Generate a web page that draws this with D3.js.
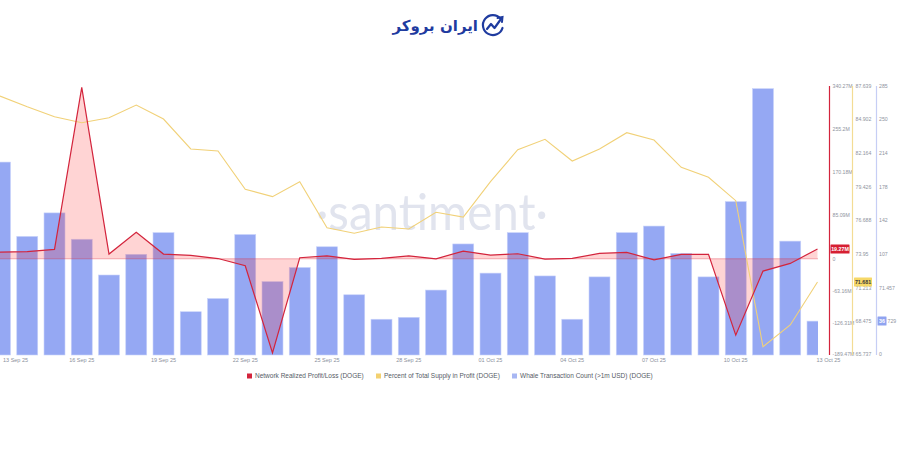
<!DOCTYPE html>
<html><head><meta charset="utf-8">
<script src="https://cdn.jsdelivr.net/npm/d3@7/dist/d3.min.js"></script>
<style>
html,body{margin:0;padding:0;background:#fff;}
svg{display:block;}
</style></head>
<body>
<svg id="chart" width="900" height="471"></svg>
<script>
// ---------- DATA ----------
const dates = ["2025-09-13","2025-09-14","2025-09-15","2025-09-16","2025-09-17","2025-09-18","2025-09-19","2025-09-20",
"2025-09-21","2025-09-22","2025-09-23","2025-09-24","2025-09-25","2025-09-26","2025-09-27","2025-09-28","2025-09-29",
"2025-09-30","2025-10-01","2025-10-02","2025-10-03","2025-10-04","2025-10-05","2025-10-06","2025-10-07","2025-10-08",
"2025-10-09","2025-10-10","2025-10-11","2025-10-12","2025-10-13"];
// Network Realized Profit/Loss (DOGE), millions USD
const realizedPL = [13.2,14.2,18.5,337.7,9.3,52,9.3,6.7,0.5,-13.8,-185.5,2,5.9,-1.2,0.8,5.9,0,15.2,7.3,9.9,-0.5,0.8,10.6,12.6,-2,8.7,8.7,-150.3,-24.2,-9.1,19.27];
// Percent of Total Supply in Profit (DOGE)
const pctProfit = [86.82,85.95,85.14,84.65,85.06,86.09,84.95,82.51,82.35,79.23,78.63,79.85,76.10,75.65,76.16,76.00,77.36,76.97,79.85,82.45,83.30,81.53,82.51,83.84,83.24,81.02,80.21,78.30,66.41,68.18,71.681];
// Whale Transaction Count (>1m USD) (DOGE)
const whaleCount = [205,126,151,123,85,107,130,46,60,128,78,93,115,64,38,40,69,118,87,130,84,38,83,130,137,108,83,163,283,121,36];

const xTickDates = ["2025-09-13","2025-09-16","2025-09-19","2025-09-22","2025-09-25","2025-09-28","2025-10-01","2025-10-04","2025-10-07","2025-10-10","2025-10-13"];
const xTickLabels = ["13 Sep 25","16 Sep 25","19 Sep 25","22 Sep 25","25 Sep 25","28 Sep 25","01 Oct 25","04 Oct 25","07 Oct 25","10 Oct 25","13 Oct 25"];

const plTicks = [340.27,255.2,170.18,85.09,0,-63.16,-126.31,-189.47];
const plTickLabels = ["340.27M","255.2M","170.18M","85.09M","0","-63.16M","-126.31M","-189.47M"];
const pctTicks = [87.639,84.902,82.164,79.426,76.688,73.95,71.213,68.475,65.737];
const pctTickLabels = ["87.639","84.902","82.164","79.426","76.688","73.95","71.213","68.475","65.737"];
const whaleTicks = [285.83,250.1,214.37,178.64,142.91,107.19,71.457,35.729,0];
// the "35.729" label is mostly hidden behind the last-value tag; only "729" shows
const whaleTickLabels = ["285","250","214","178","142","107","71.457","729","0"];

const legendLabels = ["Network Realized Profit/Loss (DOGE)","Percent of Total Supply in Profit (DOGE)","Whale Transaction Count (>1m USD) (DOGE)"];
const lastTags = ["19.27M","71.681","36"];

// ---------- LAYOUT ----------
const svg = d3.select("#chart");
const plotTop = 86, plotBottom = 355, plotRight = 818;
const RED = "#d3243c", YEL = "#f1d178", BLUE = "#95a8f3";
const FONT = "'Liberation Sans', Arial, sans-serif";

const x = d3.scalePoint().domain(dates).range([0, 817.5]);
const step = x.step();
const yPL = d3.scaleLinear().domain([-189.47, 340.27]).range([plotBottom, plotTop]);
const yPct = d3.scaleLinear().domain([65.737, 87.639]).range([plotBottom, plotTop]);
const yW = d3.scaleLinear().domain([0, 285.83]).range([plotBottom, plotTop]);

// Logo
const logo = svg.append("g");
logo.append("text").attr("x", 478).attr("y", 31)
  .attr("direction", "rtl").attr("text-anchor", "start")
  .attr("font-family", "'DejaVu Sans', sans-serif").attr("font-weight", "bold")
  .attr("font-size", 15).attr("fill", "#1f3b9f").text("ایران بروکر");
const ic = logo.append("g").attr("transform", "translate(493,25)");
ic.append("path").attr("d", "M7.5,-6.5 A10,10 0 1 0 9.5,3").attr("fill", "none").attr("stroke", "#1f3b9f").attr("stroke-width", 2.2).attr("stroke-linecap","round");
ic.append("path").attr("d", "M-6,4 L-2,-1 L1.5,3 L8,-6").attr("fill", "none").attr("stroke", "#1f3b9f").attr("stroke-width", 2.2).attr("stroke-linejoin","round").attr("stroke-linecap","round");
ic.append("path").attr("d", "M4.5,-7 L9.5,-8 L9,-3").attr("fill", "none").attr("stroke", "#1f3b9f").attr("stroke-width", 2).attr("stroke-linecap","round");

// Watermark
svg.append("text").attr("x", 432).attr("y", 230).attr("text-anchor", "middle")
  .attr("font-family", "Lato, sans-serif").attr("font-weight", 400).attr("font-size", 50)
  .attr("fill", "#e1e4ee").attr("textLength", 232).attr("lengthAdjust","spacingAndGlyphs").text("·santiment·");

// clip
svg.append("defs").append("clipPath").attr("id", "plotclip")
  .append("rect").attr("x", 0).attr("y", 0).attr("width", plotRight).attr("height", 471);
const plot = svg.append("g").attr("clip-path", "url(#plotclip)");

// Bars
const bw = step * 0.77;
plot.selectAll("rect.bar").data(dates).join("rect").attr("class", "bar")
  .attr("x", d => x(d) - bw / 2).attr("width", bw)
  .attr("y", (d, i) => yW(whaleCount[i])).attr("height", (d, i) => yW(0) - yW(whaleCount[i]))
  .attr("fill", BLUE).attr("stroke", "#c9d3fa").attr("stroke-width", 0.6);

// Red area to zero
const area = d3.area().x((d, i) => x(dates[i])).y0(yPL(0)).y1(d => yPL(d));
plot.append("path").datum(realizedPL).attr("d", area).attr("fill", "rgba(255,40,40,0.2)");
plot.append("line").attr("x1", 0).attr("x2", plotRight).attr("y1", yPL(0)).attr("y2", yPL(0))
  .attr("stroke", "rgba(220,40,60,0.45)").attr("stroke-width", 0.8);

// Lines
const linePL = d3.line().x((d, i) => x(dates[i])).y(d => yPL(d));
const linePct = d3.line().x((d, i) => x(dates[i])).y(d => yPct(d));
plot.append("path").datum(pctProfit).attr("d", linePct).attr("fill", "none").attr("stroke", YEL).attr("stroke-width", 1.1);
plot.append("path").datum(realizedPL).attr("d", linePL).attr("fill", "none").attr("stroke", RED).attr("stroke-width", 1.2);

// X labels
const xl = svg.append("g").attr("font-family", FONT).attr("font-size", 5.5).attr("fill", "#8a8f9c");
xl.selectAll("text").data(xTickDates).join("text")
  .attr("x", (d, i) => i === 0 ? 3 : (i === xTickDates.length - 1 ? x(d) - 1 : x(d)))
  .attr("y", 361.8)
  .attr("text-anchor", (d, i) => (i === 0 || i === xTickDates.length - 1) ? "start" : "middle")
  .text((d, i) => xTickLabels[i]);

// Right axes
function rightAxis(xLine, color, scale, ticks, labels, labelX) {
  svg.append("line").attr("x1", xLine).attr("x2", xLine).attr("y1", plotTop).attr("y2", plotBottom)
    .attr("stroke", color).attr("stroke-width", 1.2);
  svg.append("g").attr("font-family", FONT).attr("font-size", 5.2).attr("fill", "#8f94a0")
    .selectAll("text").data(ticks).join("text")
    .attr("x", (d, i) => labels[i] === "729" ? 887.5 : labelX)
    .attr("y", d => scale(d) - (d === ticks[ticks.length - 1] ? 1 : 0)).attr("dy", "0.35em").text((d, i) => labels[i]);
}
rightAxis(829.5, RED, yPL, plTicks, plTickLabels, 832.5);
rightAxis(852.5, "#f3dc94", yPct, pctTicks, pctTickLabels, 855.5);
rightAxis(876.5, "#c6cef5", yW, whaleTicks, whaleTickLabels, 879);

// Last-value tags
function tag(xl, w, yv, fill, txtColor, label) {
  svg.append("rect").attr("x", xl).attr("y", yv - 4.5).attr("width", w).attr("height", 9).attr("fill", fill).attr("rx", 0.5);
  svg.append("text").attr("x", xl + w / 2).attr("y", yv).attr("dy", "0.35em").attr("text-anchor", "middle")
    .attr("font-family", FONT).attr("font-size", 5.3).attr("font-weight", "bold").attr("fill", txtColor).text(label);
}
tag(830.5, 19, yPL(realizedPL[realizedPL.length - 1]), "#d61f32", "#fff", lastTags[0]);
tag(854, 18, yPct(pctProfit[pctProfit.length - 1]), "#f6d868", "#3a3a3a", lastTags[1]);
tag(877.5, 9, yW(whaleCount[whaleCount.length - 1]), "#8fa3f0", "#fff", lastTags[2]);

// Legend
const legColors = [RED, "#f3d170", "#a8b7f3"];
const legX = [247, 376, 512];
const lg = svg.append("g").attr("font-family", FONT).attr("font-size", 6.5).attr("fill", "#555b66");
legendLabels.forEach((t, i) => {
  lg.append("rect").attr("x", legX[i]).attr("y", 373.5).attr("width", 5).attr("height", 5).attr("fill", legColors[i]);
  lg.append("text").attr("x", legX[i] + 8).attr("y", 376).attr("dy", "0.35em").text(t);
});
</script>
</body></html>
